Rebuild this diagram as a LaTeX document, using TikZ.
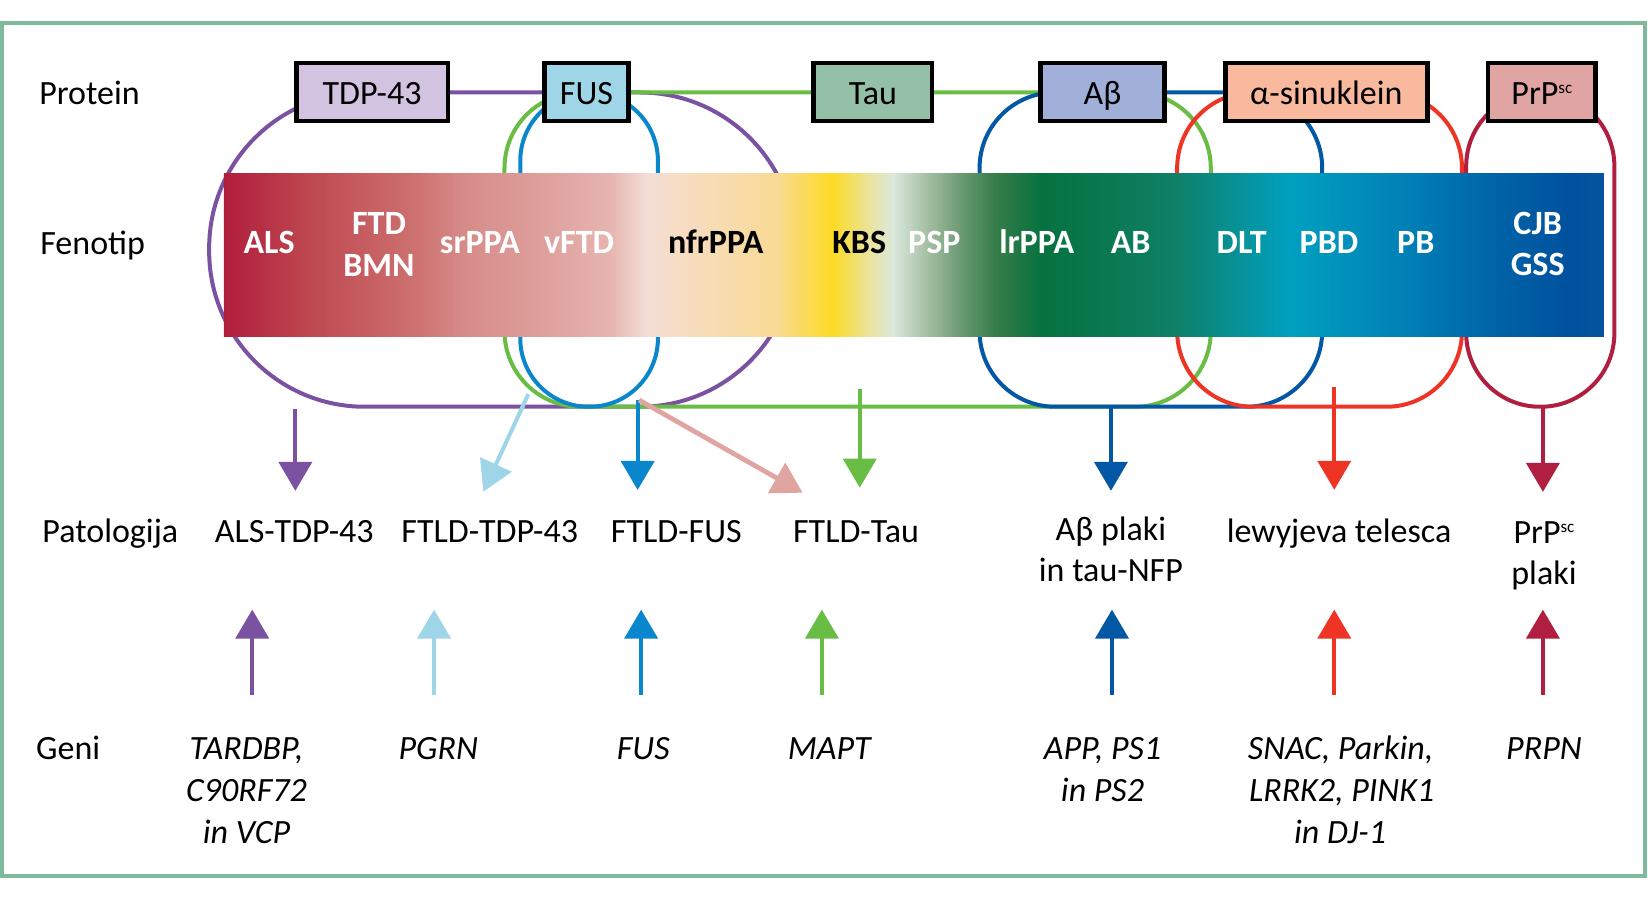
\documentclass[tikz,border=0pt]{standalone}
\usepackage{fontspec}
\setmainfont{Carlito}
\usetikzlibrary{arrows.meta}
\definecolor{cframe}{HTML}{7FB99C}
\definecolor{cpurple}{HTML}{7B51A1}
\definecolor{clight}{HTML}{9FD5E8}
\definecolor{cfus}{HTML}{0A87CC}
\definecolor{cpink}{HTML}{E0A4A1}
\definecolor{cgreen}{HTML}{69BD45}
\definecolor{cdark}{HTML}{0457A4}
\definecolor{cred}{HTML}{EE3424}
\definecolor{ccrim}{HTML}{B01F40}
\definecolor{fTDP}{HTML}{D2C3E1}
\definecolor{fFUS}{HTML}{9ED6E7}
\definecolor{fTau}{HTML}{93C0A6}
\definecolor{fAb}{HTML}{A0B0D9}
\definecolor{fSyn}{HTML}{F9B99E}
\definecolor{fPrP}{HTML}{E0A4A2}
\definecolor{s00}{HTML}{B01E3C}
\definecolor{s01}{HTML}{BF4A52}
\definecolor{s02}{HTML}{CC6E6E}
\definecolor{s03}{HTML}{D68C89}
\definecolor{s04}{HTML}{E0A5A2}
\definecolor{s05}{HTML}{E6B5B0}
\definecolor{s06}{HTML}{F3DDD6}
\definecolor{s07}{HTML}{F7DDC4}
\definecolor{s08}{HTML}{F9DA95}
\definecolor{s09}{HTML}{FCDB24}
\definecolor{s10}{HTML}{E8E4A8}
\definecolor{s11}{HTML}{DBE8DC}
\definecolor{s12}{HTML}{A4BFA2}
\definecolor{s13}{HTML}{689870}
\definecolor{s14}{HTML}{347C4A}
\definecolor{s15}{HTML}{06723F}
\definecolor{s16}{HTML}{0B7A55}
\definecolor{s17}{HTML}{0F8068}
\definecolor{s18}{HTML}{00A0BF}
\definecolor{s19}{HTML}{0083B7}
\definecolor{s20}{HTML}{0064A7}
\definecolor{s21}{HTML}{00519E}
\definecolor{s22}{HTML}{05549F}
\pgfdeclarehorizontalshading{bandshade}{100bp}{%
color(0bp)=(s00); color(25bp)=(s00); color(28.3bp)=(s01); color(31.7bp)=(s02);
color(33.75bp)=(s03); color(37.25bp)=(s04); color(39bp)=(s05); color(40.3bp)=(s06);
color(41.5bp)=(s07); color(45bp)=(s08); color(47.05bp)=(s09); color(48.5bp)=(s10);
color(49.25bp)=(s11); color(50.5bp)=(s12); color(51.75bp)=(s13); color(53bp)=(s14);
color(54.65bp)=(s15); color(57.5bp)=(s16); color(59.5bp)=(s17); color(63.6bp)=(s18);
color(67.5bp)=(s19); color(71bp)=(s20); color(73.75bp)=(s21); color(75bp)=(s22);
color(100bp)=(s22)}
\begin{document}
\begin{tikzpicture}[x=0.5255pt,y=-0.5255pt,
 lbl/.style={font=\fontsize{17}{21}\selectfont, inner sep=0pt, anchor=base},
 side/.style={lbl, anchor=base west},
 ph/.style={lbl, font=\fontsize{17}{21}\selectfont\bfseries, text=white},
 phk/.style={ph, text=black},
 gene/.style={lbl, font=\fontsize{17}{21}\selectfont\itshape},
 ring/.style={line width=2pt},
 pbox/.style={draw=black, line width=2.2pt, inner sep=0pt, minimum height=28.9pt,
   text height=12.1pt, text depth=0pt, font=\fontsize{17}{21}\selectfont},
 arr/.style={line width=2pt, -{Triangle[width=16.5pt,length=14.5pt]}},
 darr/.style={line width=2.4pt, -{Triangle[width=17pt,length=15pt]}}]
\useasboundingbox (0,0) rectangle (1568,869);
\draw[cframe, line width=2pt] (2,22) rectangle (1565,833);
% loops
\draw[ring, cpurple, rounded corners=77.8pt] (199,88) rectangle (757,387);
\draw[ring, cgreen, rounded corners=37.8pt] (480,88) rectangle (1152,387);
\draw[ring, cfus, rounded corners=34.2pt] (495,88) rectangle (626,387);
\draw[ring, cdark, rounded corners=37.8pt] (932,88) rectangle (1258,387);
\draw[ring, cred, rounded corners=37.8pt] (1120,88) rectangle (1391,387);
\draw[ring, ccrim, rounded corners=36.8pt] (1395,88) rectangle (1536,387);
% band
\shade[shading=bandshade] (213,165) rectangle (1526,320);
% protein boxes
\node[pbox, fill=fTDP, minimum width=75.7pt] (tdp) at (354,87.5) {TDP-43};
\node[pbox, fill=fFUS, minimum width=42pt] (fus) at (558,87.5) {FUS};
\node[pbox, fill=fTau, minimum width=59.4pt] (tau) at (830.5,87.5) {Tau};
\node[pbox, fill=fAb, minimum width=62pt] (ab) at (1049,87.5) {Aβ};
\node[pbox, fill=fSyn, minimum width=100.9pt] (syn) at (1262,87.5) {α-sinuklein};
\node[pbox, fill=fPrP, minimum width=53.6pt] (prp) at (1467,87.5) {PrP\raisebox{5.5pt}{\fontsize{8.5}{9}\selectfont sc}};
% row labels
\node[side] (lprot) at (37,99.5) {Protein};
\node[side] (lfen) at (38,242) {Fenotip};
\node[side] (lpat) at (40,516) {Patologija};
\node[side] (lgen) at (34,723) {Geni};
% phenotypes
\node[ph] (als) at (256,241.5) {ALS};
\node[ph] (ftd) at (360.6,223.5) {FTD};
\node[ph] (bmn) at (360.6,263) {BMN};
\node[ph] (srppa) at (456.7,241.5) {srPPA};
\node[ph] (vftd) at (551,241.5) {vFTD};
\node[phk] (nfrppa) at (681,241.5) {nfrPPA};
\node[phk] (kbs) at (817.5,241.5) {KBS};
\node[ph] (psp) at (889,241.5) {PSP};
\node[ph] (lrppa) at (986.4,241.5) {lrPPA};
\node[ph] (abp) at (1075.8,241.5) {AB};
\node[ph] (dlt) at (1181.4,241.5) {DLT};
\node[ph] (pbd) at (1264.5,241.5) {PBD};
\node[ph] (pb) at (1347,241.5) {PB};
\node[ph] (cjb) at (1463,223.5) {CJB};
\node[ph] (gss) at (1463,262.5) {GSS};
% pathology
\node[lbl] (palstdp) at (280,516) {ALS-TDP-43};
\node[lbl] (pftldtdp) at (466,516) {FTLD-TDP-43};
\node[lbl] (pftldfus) at (643.5,516) {FTLD-FUS};
\node[lbl] (pftldtau) at (814.5,516) {FTLD-Tau};
\node[lbl] (pab1) at (1057,514) {Aβ plaki};
\node[lbl] (pab2) at (1057,553) {in tau-NFP};
\node[lbl] (plewy) at (1274,516) {lewyjeva telesca};
\node[lbl] (pprp1) at (1469,517) {PrP\raisebox{5.5pt}{\fontsize{8.5}{9}\selectfont sc}};
\node[lbl] (pprp2) at (1469,556) {plaki};
% genes
\node[gene] (g1a) at (234.5,723) {TARDBP,};
\node[gene] (g1b) at (234.5,763) {C90RF72};
\node[gene] (g1c) at (234.5,803) {in VCP};
\node[gene] (g2) at (417,723) {PGRN};
\node[gene] (g3) at (612,723) {FUS};
\node[gene] (g4) at (789,723) {MAPT};
\node[gene] (g5a) at (1049,723) {APP, PS1};
\node[gene] (g5b) at (1049,763) {in PS2};
\node[gene] (g6a) at (1275.5,723) {SNAC, Parkin,};
\node[gene] (g6b) at (1276.5,763) {LRRK2, PINK1};
\node[gene] (g6c) at (1275,803) {in DJ-1};
\node[gene] (g7) at (1469,723) {PRPN};
% down arrow coordinates
\coordinate (d1s) at (281,389); \coordinate (d1e) at (281,467);
\coordinate (d2s) at (502.7,375); \coordinate (d2e) at (459.9,467.8);
\coordinate (d3s) at (606.7,380.6); \coordinate (d3e) at (606.7,466.2);
\coordinate (d4s) at (608,380.6); \coordinate (d4e) at (763.7,468.8);
\coordinate (d5s) at (818,370); \coordinate (d5e) at (818,464);
\coordinate (d6s) at (1057,388); \coordinate (d6e) at (1057,467);
\coordinate (d7s) at (1269.5,368); \coordinate (d7e) at (1269.5,466);
\coordinate (d8s) at (1468,388); \coordinate (d8e) at (1468,468);
\draw[arr, cpurple] (d1s) -- (d1e);
\draw[darr, clight, line width=2pt] (d2s) -- (d2e);
\draw[arr, cfus] (d3s) -- (d3e);
\draw[darr, cpink] (d4s) -- (d4e);
\draw[arr, cgreen] (d5s) -- (d5e);
\draw[arr, cdark] (d6s) -- (d6e);
\draw[arr, cred] (d7s) -- (d7e);
\draw[arr, ccrim] (d8s) -- (d8e);
% up arrow coordinates
\coordinate (u1s) at (240,661); \coordinate (u1e) at (240,580);
\coordinate (u2s) at (413,661); \coordinate (u2e) at (413,580);
\coordinate (u3s) at (610,661); \coordinate (u3e) at (610,580);
\coordinate (u4s) at (782,661); \coordinate (u4e) at (782,580);
\coordinate (u5s) at (1058,661); \coordinate (u5e) at (1058,580);
\coordinate (u6s) at (1269.5,661); \coordinate (u6e) at (1269.5,580);
\coordinate (u7s) at (1468,661); \coordinate (u7e) at (1468,580);
\draw[arr, cpurple] (u1s) -- (u1e);
\draw[arr, clight] (u2s) -- (u2e);
\draw[arr, cfus] (u3s) -- (u3e);
\draw[arr, cgreen] (u4s) -- (u4e);
\draw[arr, cdark] (u5s) -- (u5e);
\draw[arr, cred] (u6s) -- (u6e);
\draw[arr, ccrim] (u7s) -- (u7e);
\end{tikzpicture}
\end{document}
